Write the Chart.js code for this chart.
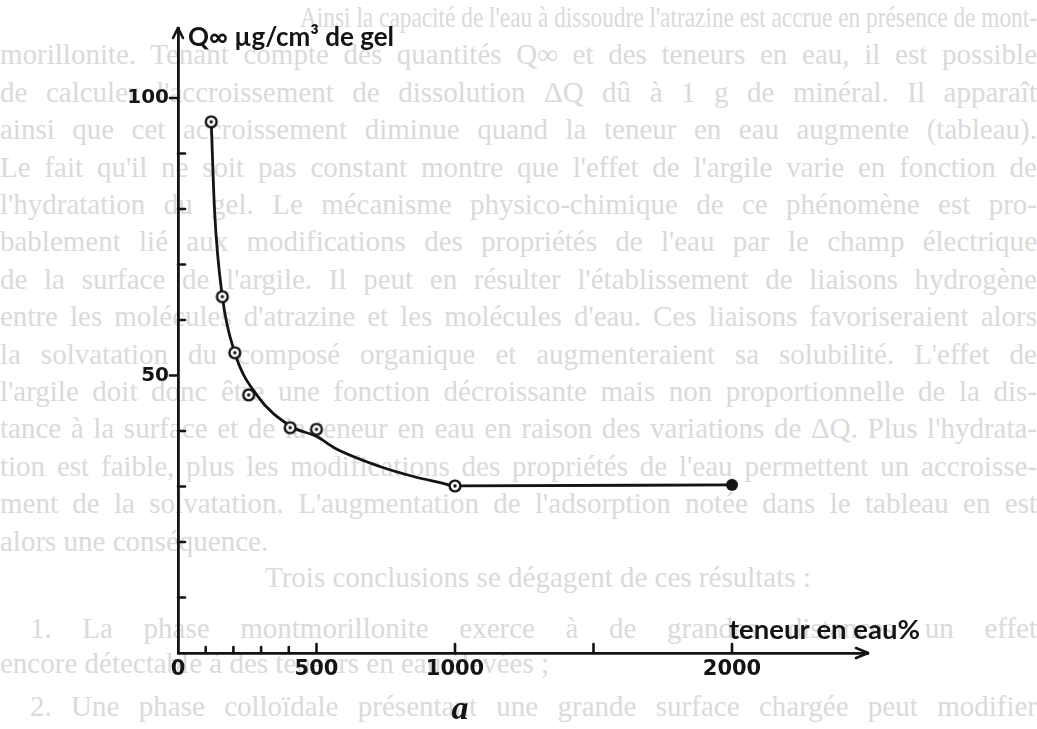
<!DOCTYPE html>
<html lang="fr">
<head>
<meta charset="utf-8">
<title>Q∞ en fonction de la teneur en eau</title>
<script src="https://cdn.jsdelivr.net/npm/chart.js@4.4.1/dist/chart.umd.min.js"></script>
<style>
  html, body { margin: 0; padding: 0; background: #fff; }
  #wrap { position: relative; width: 1037px; height: 729px; overflow: hidden; }
  #page { position: absolute; left: 0; top: 0; width: 1037px; height: 729px;
          font-family: "Liberation Serif", "DejaVu Serif", serif; font-size: 29px; color: #dadada; }
  #page div { position: absolute; white-space: nowrap; line-height: 32px; }
  #chart { position: absolute; left: 0; top: 0; }
</style>
</head>
<body>
<div id="wrap">
  <div id="page"></div>
  <canvas id="chart" width="1037" height="729"></canvas>
</div>
<script>
// points mesurés : teneur en eau (%) et Q∞ (µg/cm³ de gel)
const teneurEau = [120, 160, 205, 255, 405, 500, 1000, 2000];
const qInf = [95.7, 64.2, 54.1, 46.5, 40.6, 40.3, 30.1, 30.3];

// la courbe tracée à la main, relevée le long du trait
const courbeEau = [120, 132, 160, 205, 284, 405, 501, 567, 729, 850, 946, 1000, 2000];
const courbeQ = [95.7, 79.7, 64.2, 54.1, 46.5, 40.9, 39.0, 36.9, 33.6, 31.8, 30.7, 30.1, 30.3];

// graduations
const xTicks = [0, 100, 200, 300, 400, 500, 1000, 1500, 2000];
const xLabels = [0, 500, 1000, 2000];
const yTicks = [0, 10, 20, 30, 40, 50, 60, 70, 80, 90, 100];
const yLabels = [50, 100];

// texte de la page qui transparait derriere la figure
const pageText = [
  "Ainsi la capacité de l'eau à dissoudre l'atrazine est accrue en présence de mont-",
  "morillonite. Tenant compte des quantités Q∞ et des teneurs en eau, il est possible",
  "de calculer l'accroissement de dissolution ΔQ dû à 1 g de minéral. Il apparaît",
  "ainsi que cet accroissement diminue quand la teneur en eau augmente (tableau).",
  "Le fait qu'il ne soit pas constant montre que l'effet de l'argile varie en fonction de",
  "l'hydratation du gel. Le mécanisme physico-chimique de ce phénomène est pro-",
  "bablement lié aux modifications des propriétés de l'eau par le champ électrique",
  "de la surface de l'argile. Il peut en résulter l'établissement de liaisons hydrogène",
  "entre les molécules d'atrazine et les molécules d'eau. Ces liaisons favoriseraient alors",
  "la solvatation du composé organique et augmenteraient sa solubilité. L'effet de",
  "l'argile doit donc être une fonction décroissante mais non proportionnelle de la dis-",
  "tance à la surface et de la teneur en eau en raison des variations de ΔQ. Plus l'hydrata-",
  "tion est faible, plus les modifications des propriétés de l'eau permettent un accroisse-",
  "ment de la solvatation. L'augmentation de l'adsorption notée dans le tableau en est",
  "alors une conséquence.",
  "Trois conclusions se dégagent de ces résultats :",
  "1. La phase montmorillonite exerce à de grandes distances un effet",
  "encore détectable à des teneurs en eau élevées ;",
  "2. Une phase colloïdale présentant une grande surface chargée peut modifier"
];
const pageX = [300, 0, 0, 0, 0, 0, 0, 0, 0, 0, 0, 0, 0, 0, 0, 265, 30, 0, 30];
const pageY = [17, 54, 92, 129, 167, 204, 241, 279, 316, 354, 391, 428, 466, 503, 541, 577, 628, 663, 706];
const pageJustify = [true, true, true, true, true, true, true, true, true, true, true, true, true, true, false, false, true, false, true];

const page = document.getElementById('page');
pageText.forEach((t, i) => {
  const d = document.createElement('div');
  d.textContent = t;
  d.style.left = pageX[i] + 'px';
  d.style.top = (pageY[i] - 16) + 'px';
  page.appendChild(d);
  if (!pageJustify[i]) return;
  const target = 1037 - pageX[i];
  const nat = d.getBoundingClientRect().width;
  const spaces = (t.match(/ /g) || []).length;
  if (nat < target && spaces) {
    d.style.wordSpacing = ((target - nat) / spaces) + 'px';
  } else if (nat > target) {
    d.style.transformOrigin = '0 0';
    d.style.transform = 'scaleX(' + (target / nat) + ')';
  }
});

const ink = '#141414';

// marqueur : cercle avec point central
function makeMarker(filled) {
  const c = document.createElement('canvas');
  c.width = 18; c.height = 18;
  const g = c.getContext('2d');
  g.beginPath();
  g.arc(9, 9, filled ? 6 : 5.4, 0, Math.PI * 2);
  g.fillStyle = filled ? ink : '#fff';
  g.fill();
  if (!filled) {
    g.lineWidth = 2.4;
    g.strokeStyle = ink;
    g.stroke();
    g.beginPath();
    g.arc(9, 9, 1.7, 0, Math.PI * 2);
    g.fillStyle = ink;
    g.fill();
  }
  return c;
}
const openMark = makeMarker(false);
const fullMark = makeMarker(true);

function fitFont(ctx, text, width, build) {
  ctx.font = build(20);
  const w = ctx.measureText(text).width;
  return build(20 * width / w);
}

// graduations, fleches et titres d'axes
const axesDeco = {
  id: 'axesDeco',
  afterDraw(chart) {
    const ctx = chart.ctx;
    const xs = chart.scales.x, ys = chart.scales.y;
    const x0 = xs.getPixelForValue(0), y0 = ys.getPixelForValue(0);
    ctx.save();
    ctx.strokeStyle = ink;
    ctx.fillStyle = ink;
    ctx.lineWidth = 2.6;
    ctx.lineCap = 'round';
    const seg = (a, b, c, d) => { ctx.beginPath(); ctx.moveTo(a, b); ctx.lineTo(c, d); ctx.stroke(); };

    xTicks.forEach(v => {
      if (v === 0) return;
      const px = xs.getPixelForValue(v);
      seg(px, y0, px, y0 - (v % 500 === 0 ? 9 : 6));
    });
    yTicks.forEach(v => {
      if (v === 0) return;
      const py = ys.getPixelForValue(v);
      if (yLabels.includes(v)) seg(x0 - 8, py, x0, py);
      else seg(x0, py, x0 + 7, py);
    });

    // fleches
    const xe = xs.right, yt = ys.top;
    seg(xe, y0, xe - 12, y0 - 5);
    seg(xe, y0, xe - 12, y0 + 5);
    seg(x0, yt, x0 - 5, yt + 10);
    seg(x0, yt, x0 + 5, yt + 10);

    ctx.textBaseline = 'middle';
    ctx.textAlign = 'left';
    const yTitle = 'Q∞ µg/cm³ de gel';
    ctx.font = fitFont(ctx, yTitle, 206, s => 'bold ' + s + 'px Lato');
    ctx.fillText(yTitle, 188, 38);

    const xTitle = 'teneur en eau%';
    ctx.font = fitFont(ctx, xTitle, 191, s => 'bold ' + s + 'px Lato');
    ctx.fillText(xTitle, 729, 630);

    ctx.textAlign = 'center';
    ctx.font = 'italic bold 34px "Liberation Serif"';
    ctx.fillText('a', 460, 710);
    ctx.restore();
  }
};

new Chart(document.getElementById('chart'), {
  type: 'line',
  data: {
    datasets: [
      {
        label: 'mesures',
        data: teneurEau.map((x, i) => ({ x: x, y: qInf[i] })),
        showLine: false,
        pointStyle: teneurEau.map((x, i) => i === teneurEau.length - 1 ? fullMark : openMark),
        pointRadius: 7
      },
      {
        label: 'courbe',
        data: courbeEau.map((x, i) => ({ x: x, y: courbeQ[i] })),
        borderColor: ink,
        borderWidth: 2.8,
        pointRadius: 0,
        fill: false,
        cubicInterpolationMode: 'monotone'
      }
    ]
  },
  options: {
    responsive: false,
    animation: false,
    events: [],
    layout: { padding: { left: 0, top: 28, right: 169, bottom: 0 } },
    plugins: { legend: { display: false }, tooltip: { enabled: false } },
    scales: {
      x: {
        type: 'linear',
        min: 0,
        max: 2491,
        afterBuildTicks: s => { s.ticks = xTicks.map(v => ({ value: v })); },
        afterFit: s => { s.height = 76; },
        grid: { display: false, drawTicks: false, tickLength: 0 },
        border: { display: true, color: ink, width: 2.8 },
        ticks: {
          autoSkip: false,
          maxRotation: 0,
          padding: 4,
          color: ink,
          font: { family: 'DejaVu Sans', weight: 'bold', size: 21 },
          callback: v => xLabels.includes(v) ? String(v) : ''
        }
      },
      y: {
        type: 'linear',
        min: 0,
        max: 112.6,
        afterBuildTicks: s => { s.ticks = yTicks.map(v => ({ value: v })); },
        afterFit: s => { s.width = 178; },
        grid: { display: false, drawTicks: false, tickLength: 0 },
        border: { display: true, color: ink, width: 2.8 },
        ticks: {
          autoSkip: false,
          padding: 9,
          color: ink,
          font: { family: 'DejaVu Sans', weight: 'bold', size: 20 },
          callback: v => yLabels.includes(v) ? String(v) : ''
        }
      }
    }
  },
  plugins: [axesDeco]
});
</script>
</body>
</html>
